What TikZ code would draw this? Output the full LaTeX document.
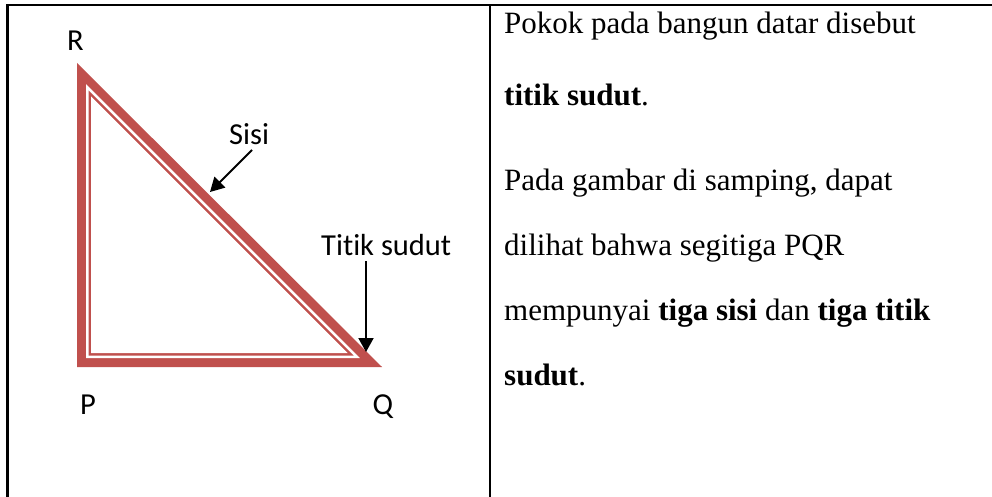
\documentclass[tikz,border=0pt]{standalone}
\usepackage{fontspec}
\setmainfont{Liberation Serif}
\newfontfamily\lblfont[Ligatures={NoCommon,NoContextual}]{Carlito}
\usetikzlibrary{arrows.meta}
\definecolor{trired}{RGB}{192,80,77}
\tikzset{
  rule/.style={line width=2.2pt,black},
  lbl/.style={font=\lblfont\fontsize{30.5}{30.5}\selectfont,inner sep=0pt},
  txt/.style={font=\fontsize{31}{31}\selectfont,inner sep=0pt,anchor=base west},
  arr/.style={line width=2pt,-{Triangle[width=15pt,length=14pt]}}
}
\begin{document}
\begin{tikzpicture}[x=1pt,y=-1pt]
\useasboundingbox (0,0) rectangle (992,497);
% table
\draw[rule] (6.4,5) -- (992,5);
\draw[rule] (7.5,5) -- (7.5,497);
\draw[rule] (490,5) -- (490,497);
% triangle (thick outer + thin inner line)
\fill[trired] (77,367) -- (77,63) -- (382,367) -- cycle;
\fill[white] (86,358) -- (86,84.2) -- (359.8,358) -- cycle;
\fill[trired] (88.5,355.5) -- (88.5,90.3) -- (353.7,355.5) -- cycle;
\fill[white] (91,353) -- (91,96.3) -- (347.7,353) -- cycle;
% labels
\node[lbl,anchor=base] (lR) at (75.5,51) {R};
\node[lbl,anchor=base] (lP) at (88,414) {P};
\node[lbl,anchor=base] (lQ) at (383,414) {Q};
\node[lbl,anchor=base west] (sisi) at (229,145) {Sisi};
\node[lbl,anchor=base west] (titik) at (321,255) {Titik sudut};
\coordinate (sisiStart) at (252,150);
\coordinate (sisiTip) at (210,192);
\coordinate (titikStart) at (366,261);
\coordinate (titikTip) at (366,352);
\draw[arr] (sisiStart) -- (sisiTip);
\draw[arr] (titikStart) -- (titikTip);
% right text
\node[txt] (t1) at (504,34) {Pokok pada bangun datar disebut};
\node[txt] (t2) at (504,106) {\textbf{titik sudut}.};
\node[txt] (t3) at (504,190) {Pada gambar di samping, dapat};
\node[txt] (t4) at (504,255) {dilihat bahwa segitiga PQR};
\node[txt] (t5) at (504,320) {mempunyai \textbf{tiga sisi} dan \textbf{tiga titik}};
\node[txt] (t6) at (504,385) {\textbf{sudut}.};
\end{tikzpicture}
\end{document}
